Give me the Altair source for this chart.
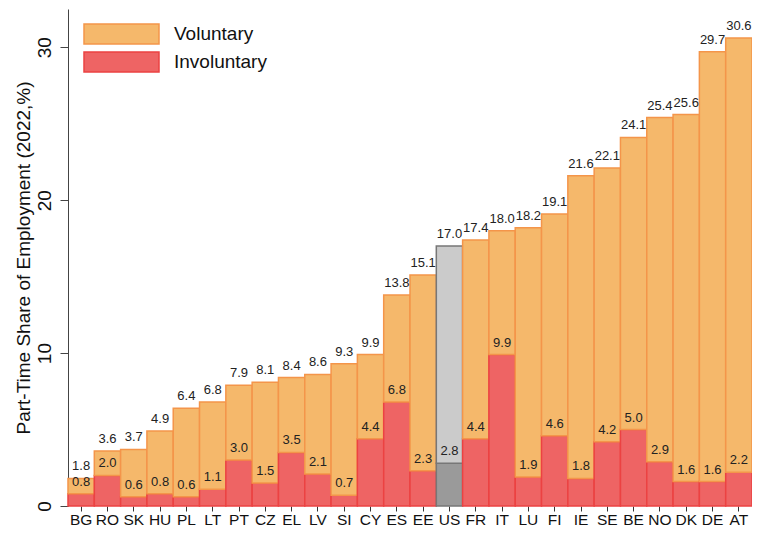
import altair as alt
import pandas as pd

countries = ["BG", "RO", "SK", "HU", "PL", "LT", "PT", "CZ", "EL", "LV", "SI", "CY", "ES",
             "EE", "US", "FR", "IT", "LU", "FI", "IE", "SE", "BE", "NO", "DK", "DE", "AT"]
totals = [1.8, 3.6, 3.7, 4.9, 6.4, 6.8, 7.9, 8.1, 8.4, 8.6, 9.3, 9.9, 13.8,
          15.1, 17.0, 17.4, 18.0, 18.2, 19.1, 21.6, 22.1, 24.1, 25.4, 25.6, 29.7, 30.6]
involuntary = [0.8, 2.0, 0.6, 0.8, 0.6, 1.1, 3.0, 1.5, 3.5, 2.1, 0.7, 4.4, 6.8,
               2.3, 2.8, 4.4, 9.9, 1.9, 4.6, 1.8, 4.2, 5.0, 2.9, 1.6, 1.6, 2.2]

rows = []
for c, t, inv in zip(countries, totals, involuntary):
    pre = "US " if c == "US" else ""
    rows.append({"country": c, "key": pre + "Involuntary", "y0": 0.0, "y1": inv})
    rows.append({"country": c, "key": pre + "Voluntary", "y0": inv, "y1": t})
bars_df = pd.DataFrame(rows)
lab_df = pd.DataFrame({"country": countries, "total": totals, "inv": involuntary})

keys = ["Voluntary", "Involuntary", "US Voluntary", "US Involuntary"]
fills = ["#F5B86B", "#EE6464", "#CBCBCB", "#9A9A9A"]
strokes = ["#F4954A", "#EC4242", "#777777", "#777777"]

legend = alt.Legend(
    title=None, values=["Voluntary", "Involuntary"], orient="none",
    legendX=42.5, legendY=14,
    symbolType="M-3.75,-1H3.75V1H-3.75Z", symbolSize=400,
    symbolStrokeWidth=1.5, labelFontSize=19, labelColor="#111111",
    labelFont="Liberation Sans", rowPadding=2, labelOffset=41.5,
)

x = alt.X("country:N", sort=countries, title=None,
          scale=alt.Scale(paddingInner=0, paddingOuter=0),
          axis=alt.Axis(labelAngle=0, labelFontSize=15.5, labelColor="#111111",
                        labelFont="Liberation Sans", domain=False, tickColor="#333333",
                        tickSize=5, labelPadding=1))

bars = alt.Chart(bars_df).mark_bar(strokeWidth=1.5).encode(
    x=x,
    y=alt.Y("y1:Q", scale=alt.Scale(domain=[0, 32.5], nice=False),
            title="Part-Time Share of Employment (2022,%)",
            axis=alt.Axis(values=[0, 10, 20, 30], grid=False, labelAngle=270,
                          labelFontSize=19, labelColor="#111111", labelFont="Liberation Sans",
                          tickSize=8, tickColor="#444444", domainColor="#444444",
                          labelPadding=6, titleFontSize=19, titleFontWeight="normal",
                          titleColor="#111111", titleFont="Liberation Sans",
                          titlePadding=2)),
    y2="y0:Q",
    fill=alt.Fill("key:N", scale=alt.Scale(domain=keys, range=fills), legend=legend),
    stroke=alt.Stroke("key:N", scale=alt.Scale(domain=keys, range=strokes), legend=legend),
)

tot_text = alt.Chart(lab_df).mark_text(
    fontSize=13, font="Liberation Sans", color="#222222", baseline="alphabetic", dy=-8
).encode(x=alt.X("country:N", sort=countries), y="total:Q", text=alt.Text("total:Q", format=".1f"))

inv_text = alt.Chart(lab_df).mark_text(
    fontSize=13, font="Liberation Sans", color="#222222", baseline="alphabetic", dy=-8
).encode(x=alt.X("country:N", sort=countries), y="inv:Q", text=alt.Text("inv:Q", format=".1f"))

chart = alt.layer(bars, tot_text, inv_text).properties(
    width=684, height=497,
    padding={"left": 60, "top": 1, "right": 0, "bottom": 24},
    autosize="none",
).configure_view(stroke=None)

chart.save("out.html", embed_options={"renderer": "svg", "actions": False})
